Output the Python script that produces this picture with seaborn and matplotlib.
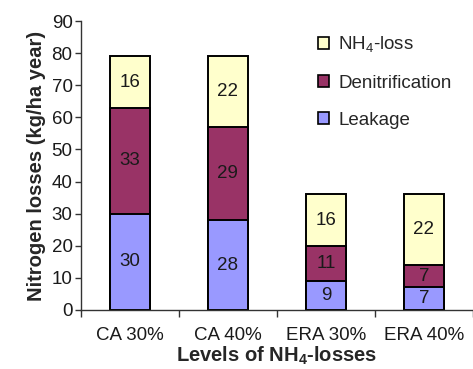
import numpy as np
import pandas as pd
import matplotlib
matplotlib.use("Agg")
import matplotlib.pyplot as plt
import seaborn as sns
from matplotlib.patches import Patch
from matplotlib.ticker import FixedLocator

# data
categories = ['CA 30%', 'CA 40%', 'ERA 30%', 'ERA 40%']
leakage = [30, 28, 9, 7]
denitrification = [33, 29, 11, 7]
nh4_loss = [16, 22, 16, 22]

COL_LEAK = '#9999FF'
COL_DENIT = '#993366'
COL_NH4 = '#FFFFCC'

sns.set_theme(style="white")
plt.rcParams['font.family'] = ['Liberation Sans', 'DejaVu Sans']
plt.rcParams['mathtext.fontset'] = 'custom'
plt.rcParams['mathtext.rm'] = 'Liberation Sans'
plt.rcParams['mathtext.bf'] = 'Liberation Sans:bold'

df = pd.DataFrame({'cat': categories, 'leak': leakage,
                   'denit': denitrification, 'nh4': nh4_loss})
df['lvl2'] = df['leak'] + df['denit']
df['total'] = df['lvl2'] + df['nh4']

fig = plt.figure(figsize=(4.73, 3.69), dpi=100)
ax = fig.add_axes([0.171, 0.160, 0.829, 0.783])

# stacked bars drawn as cumulative totals, biggest first
for col, color in [('total', COL_NH4), ('lvl2', COL_DENIT), ('leak', COL_LEAK)]:
    sns.barplot(data=df, x='cat', y=col, color=color, width=0.4,
                edgecolor='black', linewidth=1.4, saturation=1, ax=ax)

# value labels in the middle of each segment
fs = 13.5
for i, row in df.iterrows():
    ax.text(i, row['leak'] / 2, f"{row['leak']}", ha='center', va='center', fontsize=fs, color='#1a1a1a')
    ax.text(i, row['leak'] + row['denit'] / 2, f"{row['denit']}", ha='center', va='center', fontsize=fs, color='#1a1a1a')
    ax.text(i, row['lvl2'] + row['nh4'] / 2, f"{row['nh4']}", ha='center', va='center', fontsize=fs, color='#1a1a1a')

ax.set_xlim(-0.5, 3.5)
ax.set_ylim(0, 90)
ax.set_yticks(range(0, 91, 10))
ax.xaxis.set_minor_locator(FixedLocator([-0.5, 0.5, 1.5, 2.5, 3.5]))
ax.tick_params(axis='x', which='major', length=0, labelsize=fs, pad=12, colors='#1a1a1a')
ax.tick_params(axis='x', which='minor', length=5, width=1, color='#333333', direction='out', bottom=True)
ax.tick_params(axis='y', length=4, width=1, color='#333333', direction='out', left=True, labelsize=fs,
               pad=2, colors='#1a1a1a')
for s in ['top', 'right']:
    ax.spines[s].set_visible(False)
for s in ['left', 'bottom']:
    ax.spines[s].set_color('#333333')
    ax.spines[s].set_linewidth(1)

ax.set_ylabel('Nitrogen losses (kg/ha year)', fontsize=14.5, fontweight='bold', labelpad=4)
ax.set_xlabel(r'Levels of NH$_\mathbf{4}$-losses', fontsize=14.5, fontweight='bold', labelpad=1)

handles = [Patch(facecolor=COL_NH4, edgecolor='black', linewidth=1.2),
           Patch(facecolor=COL_DENIT, edgecolor='black', linewidth=1.2),
           Patch(facecolor=COL_LEAK, edgecolor='black', linewidth=1.2)]
labels = [r'NH$_4$-loss', 'Denitrification', 'Leakage']
fig.legend(handles, labels, loc='upper left', bbox_to_anchor=(0.672, 0.905), frameon=False,
           fontsize=fs, handlelength=0.6, handleheight=0.6, handletextpad=0.5,
           labelspacing=1.05, borderpad=0, borderaxespad=0)

fig.savefig('out.png', dpi=100)
